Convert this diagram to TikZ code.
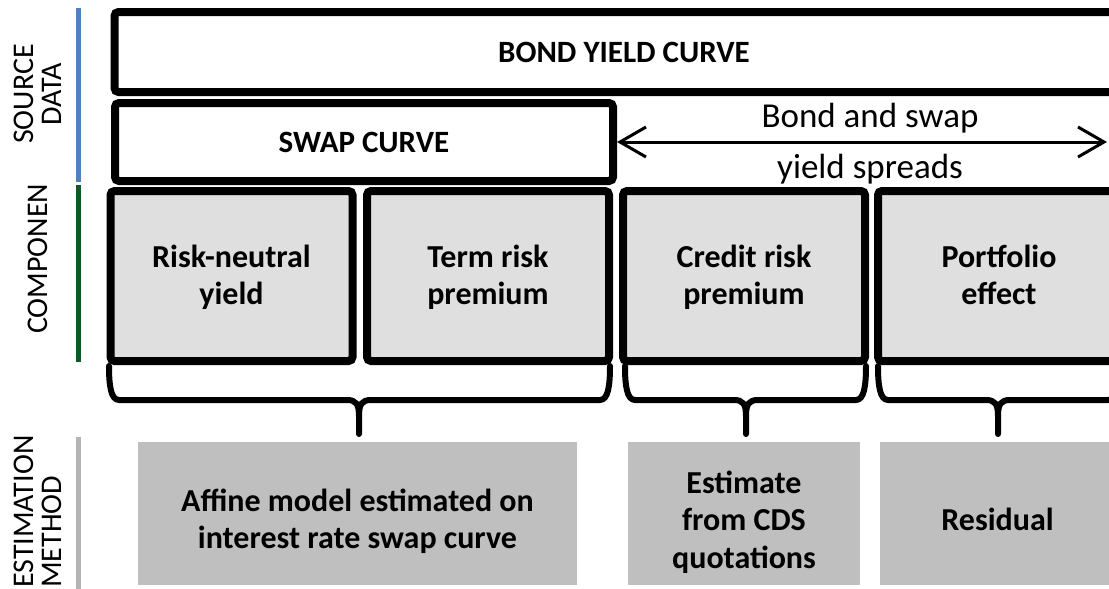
\documentclass[tikz,border=0pt]{standalone}
\usepackage{fontspec}
\setmainfont{Carlito}
\usetikzlibrary{arrows.meta}
\definecolor{srcblue}{HTML}{4F81BD}
\definecolor{compgreen}{HTML}{0E5A26}
\definecolor{methgray}{HTML}{B4B4B4}
\definecolor{compfill}{HTML}{DFDFDF}
\definecolor{estfill}{HTML}{BFBFBF}
% brace under the components: left x, right x, tip x
\newcommand{\curlybrace}[3]{%
  \draw[line width=6pt, line cap=round, line join=round]
    (#1,366) .. controls (#1,386) and (#1+2,400) .. (#1+10,400)
    -- (#3-12,400) .. controls (#3-3,400) and (#3,404) .. (#3,416) -- (#3,434)
    (#3,416) .. controls (#3,404) and (#3+3,400) .. (#3+12,400)
    -- (#2-10,400) .. controls (#2-2,400) and (#2,386) .. (#2,366);
}
% extra room above the first line of a box text
\newcommand{\headroom}[1]{\rule{0pt}{#1}}

\begin{document}
\begin{tikzpicture}[x=1pt, y=-1pt,
  topbox/.style={draw, line width=8pt, rounded corners=4pt, inner sep=0pt,
    font=\fontsize{31}{37}\selectfont\bfseries},
  compbox/.style={draw, fill=compfill, line width=8pt, rounded corners=4pt,
    minimum width=242pt, minimum height=170pt, inner sep=0pt, align=center,
    font=\fontsize{32}{37}\selectfont\bfseries},
  estbox/.style={fill=estfill, minimum height=143pt, inner sep=0pt, align=center,
    font=\fontsize{32}{37.5}\selectfont\bfseries},
  sidelabel/.style={rotate=90, inner sep=0pt, font=\fontsize{30}{28}\selectfont}]
  \useasboundingbox (0,0) rectangle (1109,589);
  \clip (0,0) rectangle (1109,589);

  % row labels
  \node[sidelabel, align=center] (srclab) at (38,94) {SOURCE\\DATA};
  \node[sidelabel] (complab) at (38,259) {COMPONEN};
  \node[sidelabel, anchor=west, align=left] (methlab) at (38,588) {ESTIMATION\\METHOD};
  \draw[line width=5pt, srcblue] (78,8) -- (78,182);
  \draw[line width=5pt, compgreen] (78,185) -- (78,362);
  \draw[line width=5pt, methgray] (78,437) -- (78,589);

  % source data
  \node[topbox, minimum width=1019pt, minimum height=80pt] (bond) at (624,52) {BOND YIELD CURVE};
  \node[topbox, minimum width=498pt, minimum height=78pt] (swap) at (364,142) {SWAP CURVE};
  \coordinate (sprend) at (1107,142);
  \draw[{Straight Barb[length=26pt,width=30pt]}-{Straight Barb[length=26pt,width=30pt]}, line width=3pt]
    (swap.east) -- (sprend)
    node[midway, anchor=base, yshift=15pt, xshift=8pt, font=\fontsize{35}{40}\selectfont] (sprtop) {Bond and swap}
    node[midway, anchor=base, yshift=-36pt, xshift=8pt, font=\fontsize{35}{40}\selectfont] (sprbot) {yield spreads};

  % components
  \foreach \n/\cx/\txt in {rny/231.5/{Risk-neutral\\yield}, trp/488/{Term risk\\premium},
      crp/744/{Credit risk\\premium}, pfe/999/{Portfolio\\effect}}
  {
    \node[compbox] (\n) at (\cx,276) {\headroom{32pt}\txt\strut};
  }

  % braces
  \curlybrace{109}{610}{359}
  \curlybrace{625}{866}{746}
  \curlybrace{878}{1118}{998}

  % estimation methods
  \node[estbox, minimum width=439pt] (affine) at (357.5,513.5) {\headroom{38pt}Affine model estimated on\\interest rate swap curve};
  \node[estbox, minimum width=232pt] (cds) at (744,513.5) {\headroom{40pt}Estimate\\from CDS\\quotations};
  \node[estbox, minimum width=235pt] (resid) at (997.5,513.5) {\headroom{34pt}Residual};
\end{tikzpicture}
\end{document}
